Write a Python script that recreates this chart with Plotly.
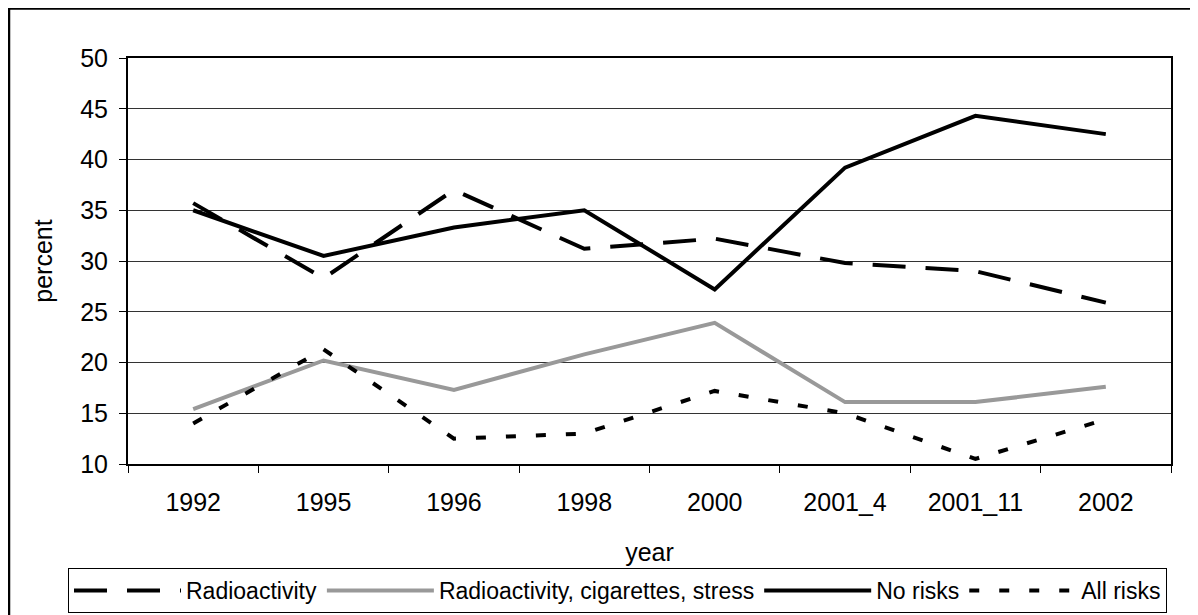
import plotly.graph_objects as go

years = ["1992", "1995", "1996", "1998", "2000", "2001_4", "2001_11", "2002"]
radioactivity = [35.7, 28.3, 37.0, 31.2, 32.2, 29.8, 29.0, 25.9]
radio_cig_stress = [15.4, 20.2, 17.3, 20.8, 23.9, 16.1, 16.1, 17.6]
no_risks = [35.0, 30.5, 33.3, 35.0, 27.2, 39.2, 44.3, 42.5]
all_risks = [14.0, 21.3, 12.5, 13.0, 17.2, 15.0, 10.5, 14.4]

FONT = "Liberation Sans, Arial, sans-serif"

fig = go.Figure()
fig.add_trace(go.Scatter(x=years, y=radioactivity, mode="lines", name="Radioactivity",
                         line=dict(color="black", width=4, dash="33px,20px")))
fig.add_trace(go.Scatter(x=years, y=radio_cig_stress, mode="lines",
                         name="Radioactivity, cigarettes, stress",
                         line=dict(color="#999999", width=4)))
fig.add_trace(go.Scatter(x=years, y=no_risks, mode="lines", name="No risks",
                         line=dict(color="black", width=4)))
fig.add_trace(go.Scatter(x=years, y=all_risks, mode="lines", name="All risks",
                         line=dict(color="black", width=4, dash="10px,20px")))

# page body adds an 8px margin; work in screen pixels and shift
OFF = 8
W, H = 1198 - OFF, 615 - OFF
L, R, T, B = 128 - OFF, 1171 - OFF, 58 - OFF, 464 - OFF
pw, ph = R - L, B - T

def px2x(p):
    return (p - OFF - L) / pw

def px2y(p):
    return (B - (p - OFF)) / ph

fig.update_layout(
    width=W, height=H,
    margin=dict(l=L, r=W - R, t=T, b=H - B, autoexpand=False),
    paper_bgcolor="white", plot_bgcolor="white",
    font=dict(family=FONT, size=25, color="black"),
    showlegend=True,
    legend=dict(orientation="h",
                x=px2x(68), xanchor="left",
                y=px2y(613), yanchor="bottom",
                bordercolor="black", borderwidth=1, bgcolor="white",
                font=dict(family=FONT, size=23, color="black"),
                itemwidth=107, tracegroupgap=0),
    xaxis=dict(type="category", showgrid=False, showline=True, linecolor="black",
               linewidth=2, mirror=True, ticks="outside", ticklen=7, tickcolor="black",
               tickwidth=1, tickson="boundaries", ticklabelstandoff=15, automargin=False,
               tickfont=dict(size=25),
               title=dict(text="year", standoff=28, font=dict(size=25)),
               range=[-0.5, 7.5]),
    yaxis=dict(range=[10, 50], dtick=5, showgrid=True, gridcolor="#333333", gridwidth=1,
               showline=True, linecolor="black", linewidth=2, mirror=True,
               ticks="outside", ticklen=7, tickcolor="black", tickwidth=1, automargin=False,
               ticklabelstandoff=6, zeroline=False, tickfont=dict(size=25),
               title=dict(text="percent", standoff=20, font=dict(size=25))),
    shapes=[dict(type="rect", xref="paper", yref="paper",
                 x0=px2x(9), x1=px2x(1300), y0=px2y(800), y1=px2y(8.5),
                 line=dict(color="black", width=2.5), fillcolor="rgba(0,0,0,0)", layer="below")],
)

fig.write_html("out.html")
